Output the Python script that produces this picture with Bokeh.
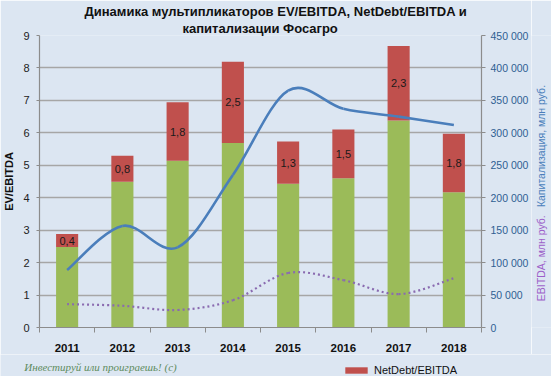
from math import pi
from bokeh.plotting import figure
from bokeh.layouts import column, row
from bokeh.models import (Range1d, LinearAxis, FixedTicker, ColumnDataSource,
                          Label, Legend, LegendItem, Title)
from bokeh.core.properties import value
from bokeh.embed import file_html
from bokeh.resources import INLINE

# ---------------- data ----------------
years = ["2011", "2012", "2013", "2014", "2015", "2016", "2017", "2018"]
ev_ebitda_base = [2.48, 4.49, 5.14, 5.69, 4.43, 4.60, 6.38, 4.17]
netdebt_ebitda = [0.4, 0.8, 1.8, 2.5, 1.3, 1.5, 2.3, 1.8]
capitalization = [88500, 156500, 123500, 235000, 365000, 337000, 325000, 312000]
ebitda = [36000, 33500, 27000, 42000, 84000, 73000, 51500, 76000]
left_ticks = [0, 1, 2, 3, 4, 5, 6, 7, 8, 9]
right_ticks = [0, 50000, 100000, 150000, 200000, 250000, 300000, 350000, 400000, 450000]

title1 = "Динамика мультипликаторов EV/EBITDA, NetDebt/EBITDA и"
title2 = "капитализации Фосагро"

BG = "#DCE6F2"
GREEN = "#9BBB59"
RED = "#C0504D"
BLUE = "#4A7EBB"
PURPLE = "#8A6BB0"
GRID = "#A6A6A6"
AX = "#8C8C8C"
FONT = "Liberation Sans"
TFONT = "'Liberation Sans Narrow', 'Liberation Sans'"

xs = [i + 1 for i in range(len(years))]
tops = [g + r for g, r in zip(ev_ebitda_base, netdebt_ebitda)]
mids = [g + r / 2 for g, r in zip(ev_ebitda_base, netdebt_ebitda)]
lbls = [f"{r:.1f}".replace(".", ",") for r in netdebt_ebitda]

src = ColumnDataSource(dict(x=xs, green=ev_ebitda_base, top=tops, mid=mids, lbl=lbls))


def strip(w, h, xr, yr):
    f = figure(width=w, height=h, output_backend="svg", toolbar_location=None,
               x_range=Range1d(*xr), y_range=Range1d(*yr),
               min_border=0, min_border_left=0, min_border_right=0,
               min_border_top=0, min_border_bottom=0)
    f.axis.visible = False
    f.grid.visible = False
    f.background_fill_color = BG
    f.border_fill_color = BG
    f.outline_line_color = None
    return f


p = figure(width=531, height=354, output_backend="svg", toolbar_location=None,
           x_range=Range1d(0.5, 8.5), y_range=Range1d(0, 9),
           min_border_left=37, min_border_right=50, min_border_top=35,
           min_border_bottom=27)
p.background_fill_color = BG
p.border_fill_color = BG
p.outline_line_color = None
p.extra_y_ranges = {"cap": Range1d(0, 450000)}

# titles (second line added first: it sits closest to the plot)
t2 = Title(text=title2, align="left", offset=143, standoff=0,
           text_font=TFONT, text_font_style="bold", text_font_size="13px",
           text_color="#111111")
t1 = Title(text=title1, align="left", offset=45, standoff=0,
           text_font=TFONT, text_font_style="bold", text_font_size="13px",
           text_color="#111111")
p.add_layout(t2, "above")
p.add_layout(t1, "above")

# grid
p.xgrid.grid_line_color = None
p.ygrid.grid_line_color = GRID
p.ygrid.grid_line_width = 1.4
p.ygrid.ticker = FixedTicker(ticks=left_ticks)

# x axis
xa = p.xaxis[0]
xa.ticker = FixedTicker(ticks=xs, minor_ticks=[i + 0.5 for i in range(len(years) + 1)])
xa.major_label_overrides = {x: y for x, y in zip(xs, years)}
xa.major_tick_out = 0
xa.major_tick_in = 0
xa.minor_tick_out = 5
xa.minor_tick_in = 0
xa.minor_tick_line_color = AX
xa.axis_line_color = AX
xa.axis_line_width = 1.2
xa.major_label_standoff = 11
xa.major_label_text_font = FONT
xa.major_label_text_font_style = "bold"
xa.major_label_text_font_size = "11.5px"
xa.major_label_text_color = "#111111"

# left axis
ya = p.yaxis[0]
ya.ticker = FixedTicker(ticks=left_ticks)
ya.major_tick_out = 3
ya.major_tick_in = 0
ya.minor_tick_line_color = None
ya.axis_line_color = AX
ya.axis_line_width = 1.2
ya.major_tick_line_color = AX
ya.major_label_standoff = 7
ya.major_label_text_font = FONT
ya.major_label_text_font_size = "11px"
ya.major_label_text_color = "#222222"
ya.axis_label = "EV/EBITDA"
ya.axis_label_text_font = FONT
ya.axis_label_text_font_style = "bold"
ya.axis_label_text_font_size = "11px"
ya.axis_label_text_color = "#111111"
ya.axis_label_standoff = 5

# right axis
ra = LinearAxis(y_range_name="cap", ticker=FixedTicker(ticks=right_ticks))
ra.major_label_overrides = {t: f"{t:,}".replace(",", " ") for t in right_ticks}
ra.major_tick_out = 4
ra.major_tick_in = 0
ra.minor_tick_line_color = None
ra.axis_line_color = AX
ra.axis_line_width = 1.2
ra.major_tick_line_color = AX
ra.major_label_standoff = 5
ra.major_label_text_font = FONT
ra.major_label_text_font_size = "10.5px"
ra.major_label_text_color = "#2F5F93"
p.add_layout(ra, "right")

# bars
p.vbar(x="x", width=0.4, bottom=0, top="green", source=src,
       fill_color=GREEN, line_color=None)
p.vbar(x="x", width=0.4, bottom="green", top="top", source=src,
       fill_color=RED, line_color=None)
p.text(x="x", y="mid", text="lbl", source=src, text_align="center",
       text_baseline="middle", text_font=value(FONT), text_font_size="11px",
       text_color="#1a1a1a")


def smooth(xv, yv):
    n = len(xv)
    d = dict(x0=[], y0=[], x1=[], y1=[], cx0=[], cy0=[], cx1=[], cy1=[])
    for i in range(n - 1):
        xp, yp = (xv[i - 1], yv[i - 1]) if i > 0 else (xv[i], yv[i])
        xn, yn = (xv[i + 2], yv[i + 2]) if i + 2 < n else (xv[i + 1], yv[i + 1])
        d["x0"].append(xv[i]); d["y0"].append(yv[i])
        d["x1"].append(xv[i + 1]); d["y1"].append(yv[i + 1])
        d["cx0"].append(xv[i] + (xv[i + 1] - xp) / 6)
        d["cy0"].append(yv[i] + (yv[i + 1] - yp) / 6)
        d["cx1"].append(xv[i + 1] - (xn - xv[i]) / 6)
        d["cy1"].append(yv[i + 1] - (yn - yv[i]) / 6)
    return ColumnDataSource(d)


p.bezier(x0="x0", y0="y0", x1="x1", y1="y1", cx0="cx0", cy0="cy0", cx1="cx1",
         cy1="cy1", source=smooth(xs, capitalization), y_range_name="cap",
         line_color=BLUE, line_width=2.6)
p.bezier(x0="x0", y0="y0", x1="x1", y1="y1", cx0="cx0", cy0="cy0", cx1="cx1",
         cy1="cy1", source=smooth(xs, ebitda), y_range_name="cap",
         line_color=PURPLE, line_width=2.2, line_dash="2 3")

# right strip with the two rotated axis titles (coordinates = page pixels)
rs = strip(20, 354, (531, 551), (354, 0))
rs.add_layout(Label(x=540, y=134, text="Капитализация, млн руб.", angle=pi / 2,
                    text_align="center", text_baseline="middle", text_font=FONT,
                    text_font_size="10.5px", text_color=BLUE))
rs.add_layout(Label(x=540, y=270, text="EBITDA, млн руб.", angle=pi / 2,
                    text_align="center", text_baseline="middle", text_font=FONT,
                    text_font_size="10.5px", text_color="#9C5FC9"))

# bottom strip: signature and legend
bs = strip(551, 22, (0, 551), (376, 354))
bs.add_layout(Label(x=100, y=366, text="Инвестируй или проиграешь! (с)",
                    text_align="center", text_baseline="middle",
                    text_font="Liberation Serif", text_font_style="italic",
                    text_font_size="11px", text_color="#5E8C5E"))
# off-screen proxy renderer that only supplies the legend swatch
leg_r = bs.vbar(x=[-50], bottom=[400], top=[401], width=1,
                fill_color=RED, line_color=None)
legend = Legend(items=[LegendItem(label="NetDebt/EBITDA", renderers=[leg_r])],
                location=(342, 0), orientation="horizontal",
                glyph_width=28, glyph_height=8, label_height=13, label_standoff=4,
                padding=0, margin=0, spacing=0,
                background_fill_alpha=0, border_line_color=None,
                label_text_font=FONT, label_text_font_size="11px",
                label_text_color="#111111")
bs.add_layout(legend)

layout = column(row(p, rs), bs)
open("out.html", "w").write(file_html(layout, INLINE))
